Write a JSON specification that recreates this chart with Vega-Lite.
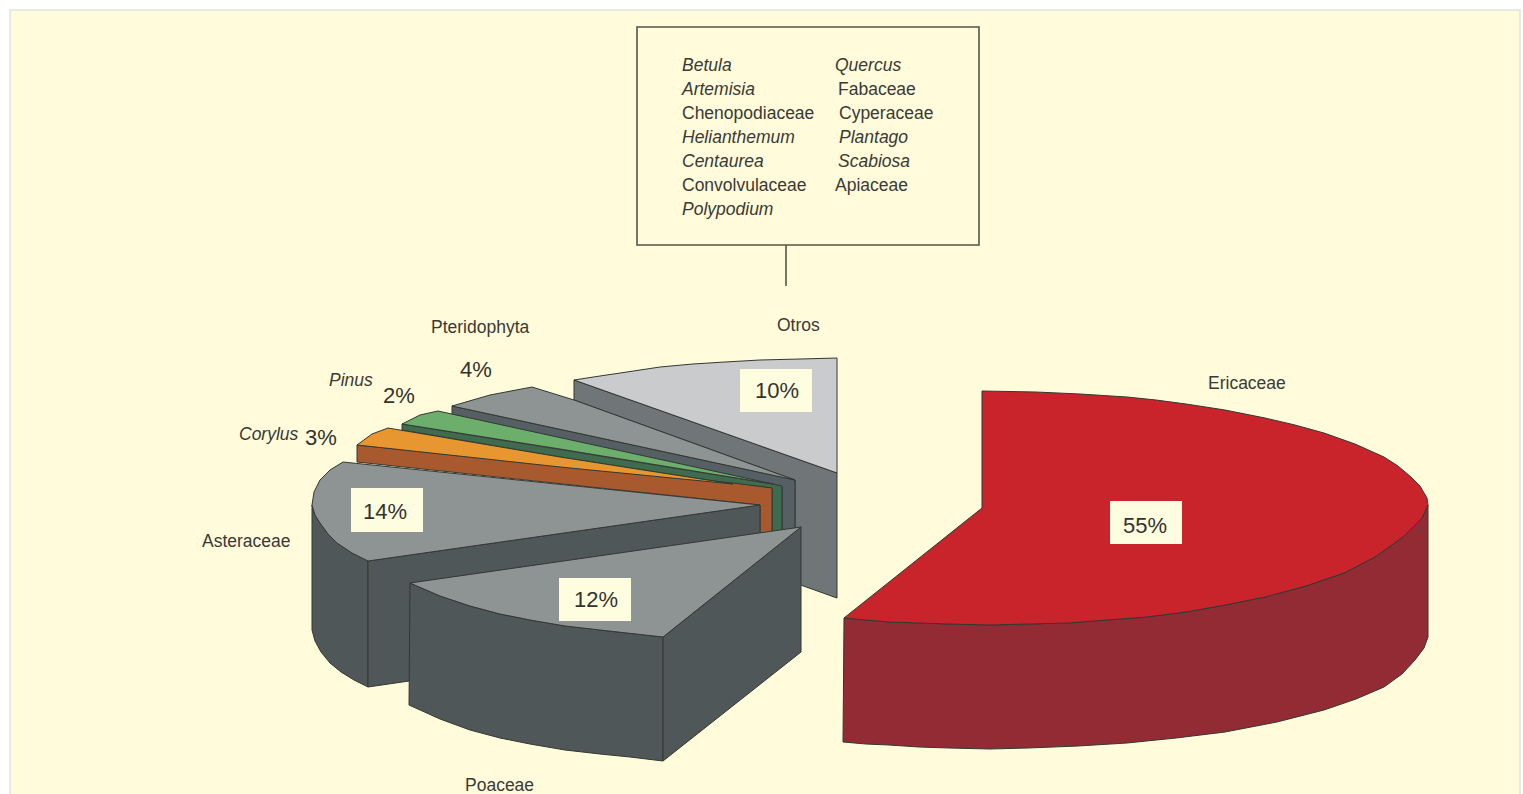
{"$schema":"https://vega.github.io/schema/vega-lite/v6.json","width":1523,"height":794,"padding":0,"autosize":{"type":"none"},"background":"#ffffff","config":{"view":{"stroke":null}},
"datasets":{
"boxes":[{"name":"panel","x":10,"x2":1520,"y":10,"y2":805}],
"callout":[{"name":"box","x":637,"x2":979,"y":27,"y2":245}],
"stem":[{"x":786,"y":245,"y2":286}],
"valueBoxes":[{"name":"55%","x":1110,"x2":1182,"y":501,"y2":544},{"name":"12%","x":559,"x2":631,"y":578,"y2":621},{"name":"14%","x":351,"x2":423,"y":488,"y2":532},{"name":"10%","x":740,"x2":812,"y":369,"y2":412}],
"roman":[{"t":"Chenopodiaceae","x":682,"y":114},{"t":"Convolvulaceae","x":682,"y":186},{"t":"Fabaceae","x":838,"y":90},{"t":"Cyperaceae","x":839,"y":114},{"t":"Apiaceae","x":835,"y":186},{"t":"Otros","x":777,"y":326},{"t":"Pteridophyta","x":431,"y":328},{"t":"Asteraceae","x":202,"y":542},{"t":"Ericaceae","x":1208,"y":384},{"t":"Poaceae","x":465,"y":786}],
"italic":[{"t":"Betula","x":682,"y":66},{"t":"Artemisia","x":682,"y":90},{"t":"Helianthemum","x":682,"y":138},{"t":"Centaurea","x":682,"y":162},{"t":"Polypodium","x":682,"y":210},{"t":"Quercus","x":835,"y":66},{"t":"Plantago","x":839,"y":138},{"t":"Scabiosa","x":838,"y":162},{"t":"Pinus","x":329,"y":381},{"t":"Corylus","x":239,"y":435}],
"pct":[{"t":"4%","x":460,"y":370},{"t":"2%","x":383,"y":396},{"t":"3%","x":305,"y":438},{"t":"14%","x":363,"y":512},{"t":"10%","x":755,"y":391},{"t":"55%","x":1123,"y":526},{"t":"12%","x":574,"y":600}],
"faces":[
{"f":"otrosSide","i":1,"x":574,"y":380},{"f":"otrosSide","i":2,"x":837,"y":473},{"f":"otrosSide","i":3,"x":837,"y":598},{"f":"otrosSide","i":4,"x":795,"y":583},{"f":"otrosSide","i":5,"x":795,"y":480},{"f":"otrosSide","i":6,"x":574,"y":400},{"f":"otrosSide","i":7,"x":574,"y":380},
{"f":"otrosTop","i":1,"x":574,"y":380},{"f":"otrosTop","i":2,"x":600,"y":376},{"f":"otrosTop","i":3,"x":627,"y":372},{"f":"otrosTop","i":4,"x":660,"y":367},{"f":"otrosTop","i":5,"x":693,"y":364},{"f":"otrosTop","i":6,"x":725,"y":362},{"f":"otrosTop","i":7,"x":760,"y":360},{"f":"otrosTop","i":8,"x":800,"y":359},{"f":"otrosTop","i":9,"x":837,"y":358},{"f":"otrosTop","i":10,"x":837,"y":473},{"f":"otrosTop","i":11,"x":574,"y":380},
{"f":"pteridBand","i":1,"x":452,"y":406},{"f":"pteridBand","i":2,"x":795,"y":480},{"f":"pteridBand","i":3,"x":795,"y":536},{"f":"pteridBand","i":4,"x":782,"y":536},{"f":"pteridBand","i":5,"x":782,"y":487},{"f":"pteridBand","i":6,"x":452,"y":416},{"f":"pteridBand","i":7,"x":452,"y":406},
{"f":"pteridTop","i":1,"x":452,"y":406},{"f":"pteridTop","i":2,"x":490,"y":395},{"f":"pteridTop","i":3,"x":532,"y":387},{"f":"pteridTop","i":4,"x":574,"y":400},{"f":"pteridTop","i":5,"x":795,"y":480},{"f":"pteridTop","i":6,"x":452,"y":406},
{"f":"pinusBand","i":1,"x":402,"y":424},{"f":"pinusBand","i":2,"x":773,"y":484},{"f":"pinusBand","i":3,"x":782,"y":486},{"f":"pinusBand","i":4,"x":782,"y":538},{"f":"pinusBand","i":5,"x":772,"y":538},{"f":"pinusBand","i":6,"x":772,"y":488},{"f":"pinusBand","i":7,"x":733,"y":484},{"f":"pinusBand","i":8,"x":560,"y":457},{"f":"pinusBand","i":9,"x":402,"y":430},{"f":"pinusBand","i":10,"x":402,"y":424},
{"f":"pinusTop","i":1,"x":402,"y":424},{"f":"pinusTop","i":2,"x":420,"y":415},{"f":"pinusTop","i":3,"x":438,"y":411},{"f":"pinusTop","i":4,"x":773,"y":484},{"f":"pinusTop","i":5,"x":560,"y":449},{"f":"pinusTop","i":6,"x":402,"y":424},
{"f":"corylusBand","i":1,"x":357,"y":445},{"f":"corylusBand","i":2,"x":733,"y":483},{"f":"corylusBand","i":3,"x":772,"y":488},{"f":"corylusBand","i":4,"x":772,"y":540},{"f":"corylusBand","i":5,"x":760,"y":540},{"f":"corylusBand","i":6,"x":760,"y":505},{"f":"corylusBand","i":7,"x":357,"y":462},{"f":"corylusBand","i":8,"x":357,"y":445},
{"f":"corylusTop","i":1,"x":357,"y":445},{"f":"corylusTop","i":2,"x":372,"y":434},{"f":"corylusTop","i":3,"x":388,"y":428},{"f":"corylusTop","i":4,"x":560,"y":457},{"f":"corylusTop","i":5,"x":733,"y":484},{"f":"corylusTop","i":6,"x":560,"y":467},{"f":"corylusTop","i":7,"x":357,"y":445},
{"f":"asterOuter","i":1,"x":312,"y":505},{"f":"asterOuter","i":2,"x":315,"y":515},{"f":"asterOuter","i":3,"x":320,"y":523},{"f":"asterOuter","i":4,"x":328,"y":534},{"f":"asterOuter","i":5,"x":337,"y":543},{"f":"asterOuter","i":6,"x":352,"y":553},{"f":"asterOuter","i":7,"x":368,"y":561},{"f":"asterOuter","i":8,"x":368,"y":687},{"f":"asterOuter","i":9,"x":354,"y":680},{"f":"asterOuter","i":10,"x":341,"y":672},{"f":"asterOuter","i":11,"x":330,"y":663},{"f":"asterOuter","i":12,"x":321,"y":652},{"f":"asterOuter","i":13,"x":315,"y":641},{"f":"asterOuter","i":14,"x":312,"y":630},{"f":"asterOuter","i":15,"x":312,"y":505},
{"f":"asterInner","i":1,"x":368,"y":561},{"f":"asterInner","i":2,"x":760,"y":505},{"f":"asterInner","i":3,"x":760,"y":630},{"f":"asterInner","i":4,"x":368,"y":687},{"f":"asterInner","i":5,"x":368,"y":561},
{"f":"asterTop","i":1,"x":343,"y":462},{"f":"asterTop","i":2,"x":330,"y":470},{"f":"asterTop","i":3,"x":320,"y":480},{"f":"asterTop","i":4,"x":314,"y":492},{"f":"asterTop","i":5,"x":312,"y":505},{"f":"asterTop","i":6,"x":315,"y":515},{"f":"asterTop","i":7,"x":320,"y":523},{"f":"asterTop","i":8,"x":328,"y":534},{"f":"asterTop","i":9,"x":337,"y":543},{"f":"asterTop","i":10,"x":352,"y":553},{"f":"asterTop","i":11,"x":368,"y":561},{"f":"asterTop","i":12,"x":760,"y":505},{"f":"asterTop","i":13,"x":343,"y":462},
{"f":"poaFront","i":1,"x":410,"y":583},{"f":"poaFront","i":2,"x":440,"y":596},{"f":"poaFront","i":3,"x":470,"y":606},{"f":"poaFront","i":4,"x":500,"y":614},{"f":"poaFront","i":5,"x":530,"y":620},{"f":"poaFront","i":6,"x":565,"y":626},{"f":"poaFront","i":7,"x":600,"y":630},{"f":"poaFront","i":8,"x":663,"y":637},{"f":"poaFront","i":9,"x":663,"y":761},{"f":"poaFront","i":10,"x":630,"y":757},{"f":"poaFront","i":11,"x":600,"y":754},{"f":"poaFront","i":12,"x":565,"y":750},{"f":"poaFront","i":13,"x":530,"y":744},{"f":"poaFront","i":14,"x":500,"y":738},{"f":"poaFront","i":15,"x":470,"y":730},{"f":"poaFront","i":16,"x":440,"y":719},{"f":"poaFront","i":17,"x":409,"y":705},{"f":"poaFront","i":18,"x":410,"y":583},
{"f":"poaRight","i":1,"x":663,"y":637},{"f":"poaRight","i":2,"x":801,"y":527},{"f":"poaRight","i":3,"x":801,"y":652},{"f":"poaRight","i":4,"x":663,"y":761},{"f":"poaRight","i":5,"x":663,"y":637},
{"f":"poaTop","i":1,"x":410,"y":583},{"f":"poaTop","i":2,"x":801,"y":527},{"f":"poaTop","i":3,"x":663,"y":637},{"f":"poaTop","i":4,"x":600,"y":630},{"f":"poaTop","i":5,"x":565,"y":626},{"f":"poaTop","i":6,"x":530,"y":620},{"f":"poaTop","i":7,"x":500,"y":614},{"f":"poaTop","i":8,"x":470,"y":606},{"f":"poaTop","i":9,"x":440,"y":596},{"f":"poaTop","i":10,"x":410,"y":583},
{"f":"ericaSide","i":1,"x":1428,"y":505},{"f":"ericaSide","i":2,"x":1422,"y":518},{"f":"ericaSide","i":3,"x":1403,"y":537},{"f":"ericaSide","i":4,"x":1375,"y":557},{"f":"ericaSide","i":5,"x":1344,"y":573},{"f":"ericaSide","i":6,"x":1306,"y":586},{"f":"ericaSide","i":7,"x":1265,"y":597},{"f":"ericaSide","i":8,"x":1225,"y":605},{"f":"ericaSide","i":9,"x":1186,"y":612},{"f":"ericaSide","i":10,"x":1147,"y":617},{"f":"ericaSide","i":11,"x":1107,"y":620},{"f":"ericaSide","i":12,"x":1068,"y":623},{"f":"ericaSide","i":13,"x":1028,"y":624},{"f":"ericaSide","i":14,"x":990,"y":625},{"f":"ericaSide","i":15,"x":949,"y":624},{"f":"ericaSide","i":16,"x":919,"y":623},{"f":"ericaSide","i":17,"x":889,"y":622},{"f":"ericaSide","i":18,"x":866,"y":620},{"f":"ericaSide","i":19,"x":844,"y":618},{"f":"ericaSide","i":20,"x":843,"y":742},{"f":"ericaSide","i":21,"x":866,"y":744},{"f":"ericaSide","i":22,"x":889,"y":745},{"f":"ericaSide","i":23,"x":919,"y":747},{"f":"ericaSide","i":24,"x":949,"y":748},{"f":"ericaSide","i":25,"x":990,"y":749},{"f":"ericaSide","i":26,"x":1028,"y":748},{"f":"ericaSide","i":27,"x":1078,"y":746},{"f":"ericaSide","i":28,"x":1127,"y":743},{"f":"ericaSide","i":29,"x":1176,"y":738},{"f":"ericaSide","i":30,"x":1225,"y":732},{"f":"ericaSide","i":31,"x":1277,"y":722},{"f":"ericaSide","i":32,"x":1324,"y":710},{"f":"ericaSide","i":33,"x":1356,"y":699},{"f":"ericaSide","i":34,"x":1384,"y":687},{"f":"ericaSide","i":35,"x":1402,"y":674},{"f":"ericaSide","i":36,"x":1415,"y":660},{"f":"ericaSide","i":37,"x":1424,"y":648},{"f":"ericaSide","i":38,"x":1428,"y":637},{"f":"ericaSide","i":39,"x":1428,"y":505},
{"f":"ericaTop","i":1,"x":982,"y":391},{"f":"ericaTop","i":2,"x":1036,"y":392},{"f":"ericaTop","i":3,"x":1080,"y":394},{"f":"ericaTop","i":4,"x":1127,"y":397},{"f":"ericaTop","i":5,"x":1156,"y":400},{"f":"ericaTop","i":6,"x":1186,"y":404},{"f":"ericaTop","i":7,"x":1225,"y":410},{"f":"ericaTop","i":8,"x":1265,"y":418},{"f":"ericaTop","i":9,"x":1295,"y":425},{"f":"ericaTop","i":10,"x":1324,"y":433},{"f":"ericaTop","i":11,"x":1355,"y":444},{"f":"ericaTop","i":12,"x":1384,"y":457},{"f":"ericaTop","i":13,"x":1398,"y":466},{"f":"ericaTop","i":14,"x":1411,"y":477},{"f":"ericaTop","i":15,"x":1420,"y":486},{"f":"ericaTop","i":16,"x":1427,"y":498},{"f":"ericaTop","i":17,"x":1428,"y":505},{"f":"ericaTop","i":18,"x":1422,"y":518},{"f":"ericaTop","i":19,"x":1403,"y":537},{"f":"ericaTop","i":20,"x":1375,"y":557},{"f":"ericaTop","i":21,"x":1344,"y":573},{"f":"ericaTop","i":22,"x":1306,"y":586},{"f":"ericaTop","i":23,"x":1265,"y":597},{"f":"ericaTop","i":24,"x":1225,"y":605},{"f":"ericaTop","i":25,"x":1186,"y":612},{"f":"ericaTop","i":26,"x":1147,"y":617},{"f":"ericaTop","i":27,"x":1107,"y":620},{"f":"ericaTop","i":28,"x":1068,"y":623},{"f":"ericaTop","i":29,"x":1028,"y":624},{"f":"ericaTop","i":30,"x":990,"y":625},{"f":"ericaTop","i":31,"x":949,"y":624},{"f":"ericaTop","i":32,"x":919,"y":623},{"f":"ericaTop","i":33,"x":889,"y":622},{"f":"ericaTop","i":34,"x":866,"y":620},{"f":"ericaTop","i":35,"x":844,"y":618},{"f":"ericaTop","i":36,"x":982,"y":508},{"f":"ericaTop","i":37,"x":982,"y":391}
]},
"layer":[
{"data":{"name":"boxes"},"mark":{"type":"rect","fill":"#FFFBDB","stroke":"#E2E2E2","strokeWidth":1.5},"encoding":{"x":{"field":"x","type":"quantitative","scale":{"domain":[0,1523],"nice":false,"zero":false},"axis":null},"x2":{"field":"x2"},"y":{"field":"y","type":"quantitative","scale":{"domain":[794,0],"nice":false,"zero":false},"axis":null},"y2":{"field":"y2"}}},
{"data":{"name":"callout"},"mark":{"type":"rect","fill":"#FFFBDB","stroke":"#55554A","strokeWidth":1.6},"encoding":{"x":{"field":"x","type":"quantitative"},"x2":{"field":"x2"},"y":{"field":"y","type":"quantitative"},"y2":{"field":"y2"}}},
{"data":{"name":"stem"},"mark":{"type":"rule","stroke":"#55554A","strokeWidth":1.6},"encoding":{"x":{"field":"x","type":"quantitative"},"y":{"field":"y","type":"quantitative"},"y2":{"field":"y2"}}},
{"data":{"name":"faces"},"mark":{"type":"line","stroke":"#333833","strokeWidth":1,"strokeJoin":"round","interpolate":"linear"},"encoding":{"x":{"field":"x","type":"quantitative"},"y":{"field":"y","type":"quantitative"},"order":{"field":"i","type":"quantitative"},"fill":{"field":"f","type":"nominal","legend":null,"scale":{"domain":["otrosSide","otrosTop","pteridBand","pteridTop","pinusBand","pinusTop","corylusBand","corylusTop","asterOuter","asterInner","asterTop","poaFront","poaRight","poaTop","ericaSide","ericaTop"],"range":["#707577","#C9CBCD","#565F63","#8E9394","#3F6B4F","#6CAF6C","#A85A2E","#E8962F","#4F5759","#4F5759","#8E9394","#4F5759","#4F5759","#8E9394","#922B33","#C9242B"]}}}},
{"data":{"name":"valueBoxes"},"mark":{"type":"rect","fill":"#FFFDE0"},"encoding":{"x":{"field":"x","type":"quantitative"},"x2":{"field":"x2"},"y":{"field":"y","type":"quantitative"},"y2":{"field":"y2"}}},
{"data":{"name":"roman"},"mark":{"type":"text","font":"Liberation Sans","fontSize":17.5,"align":"left","baseline":"middle","fill":"#3A3A34"},"encoding":{"x":{"field":"x","type":"quantitative"},"y":{"field":"y","type":"quantitative"},"text":{"field":"t"}}},
{"data":{"name":"italic"},"mark":{"type":"text","font":"Liberation Sans","fontSize":17.5,"fontStyle":"italic","align":"left","baseline":"middle","fill":"#3A3A34"},"encoding":{"x":{"field":"x","type":"quantitative"},"y":{"field":"y","type":"quantitative"},"text":{"field":"t"}}},
{"data":{"name":"pct"},"mark":{"type":"text","font":"Liberation Sans","fontSize":22,"align":"left","baseline":"middle","fill":"#33332E"},"encoding":{"x":{"field":"x","type":"quantitative"},"y":{"field":"y","type":"quantitative"},"text":{"field":"t"}}}
]}
